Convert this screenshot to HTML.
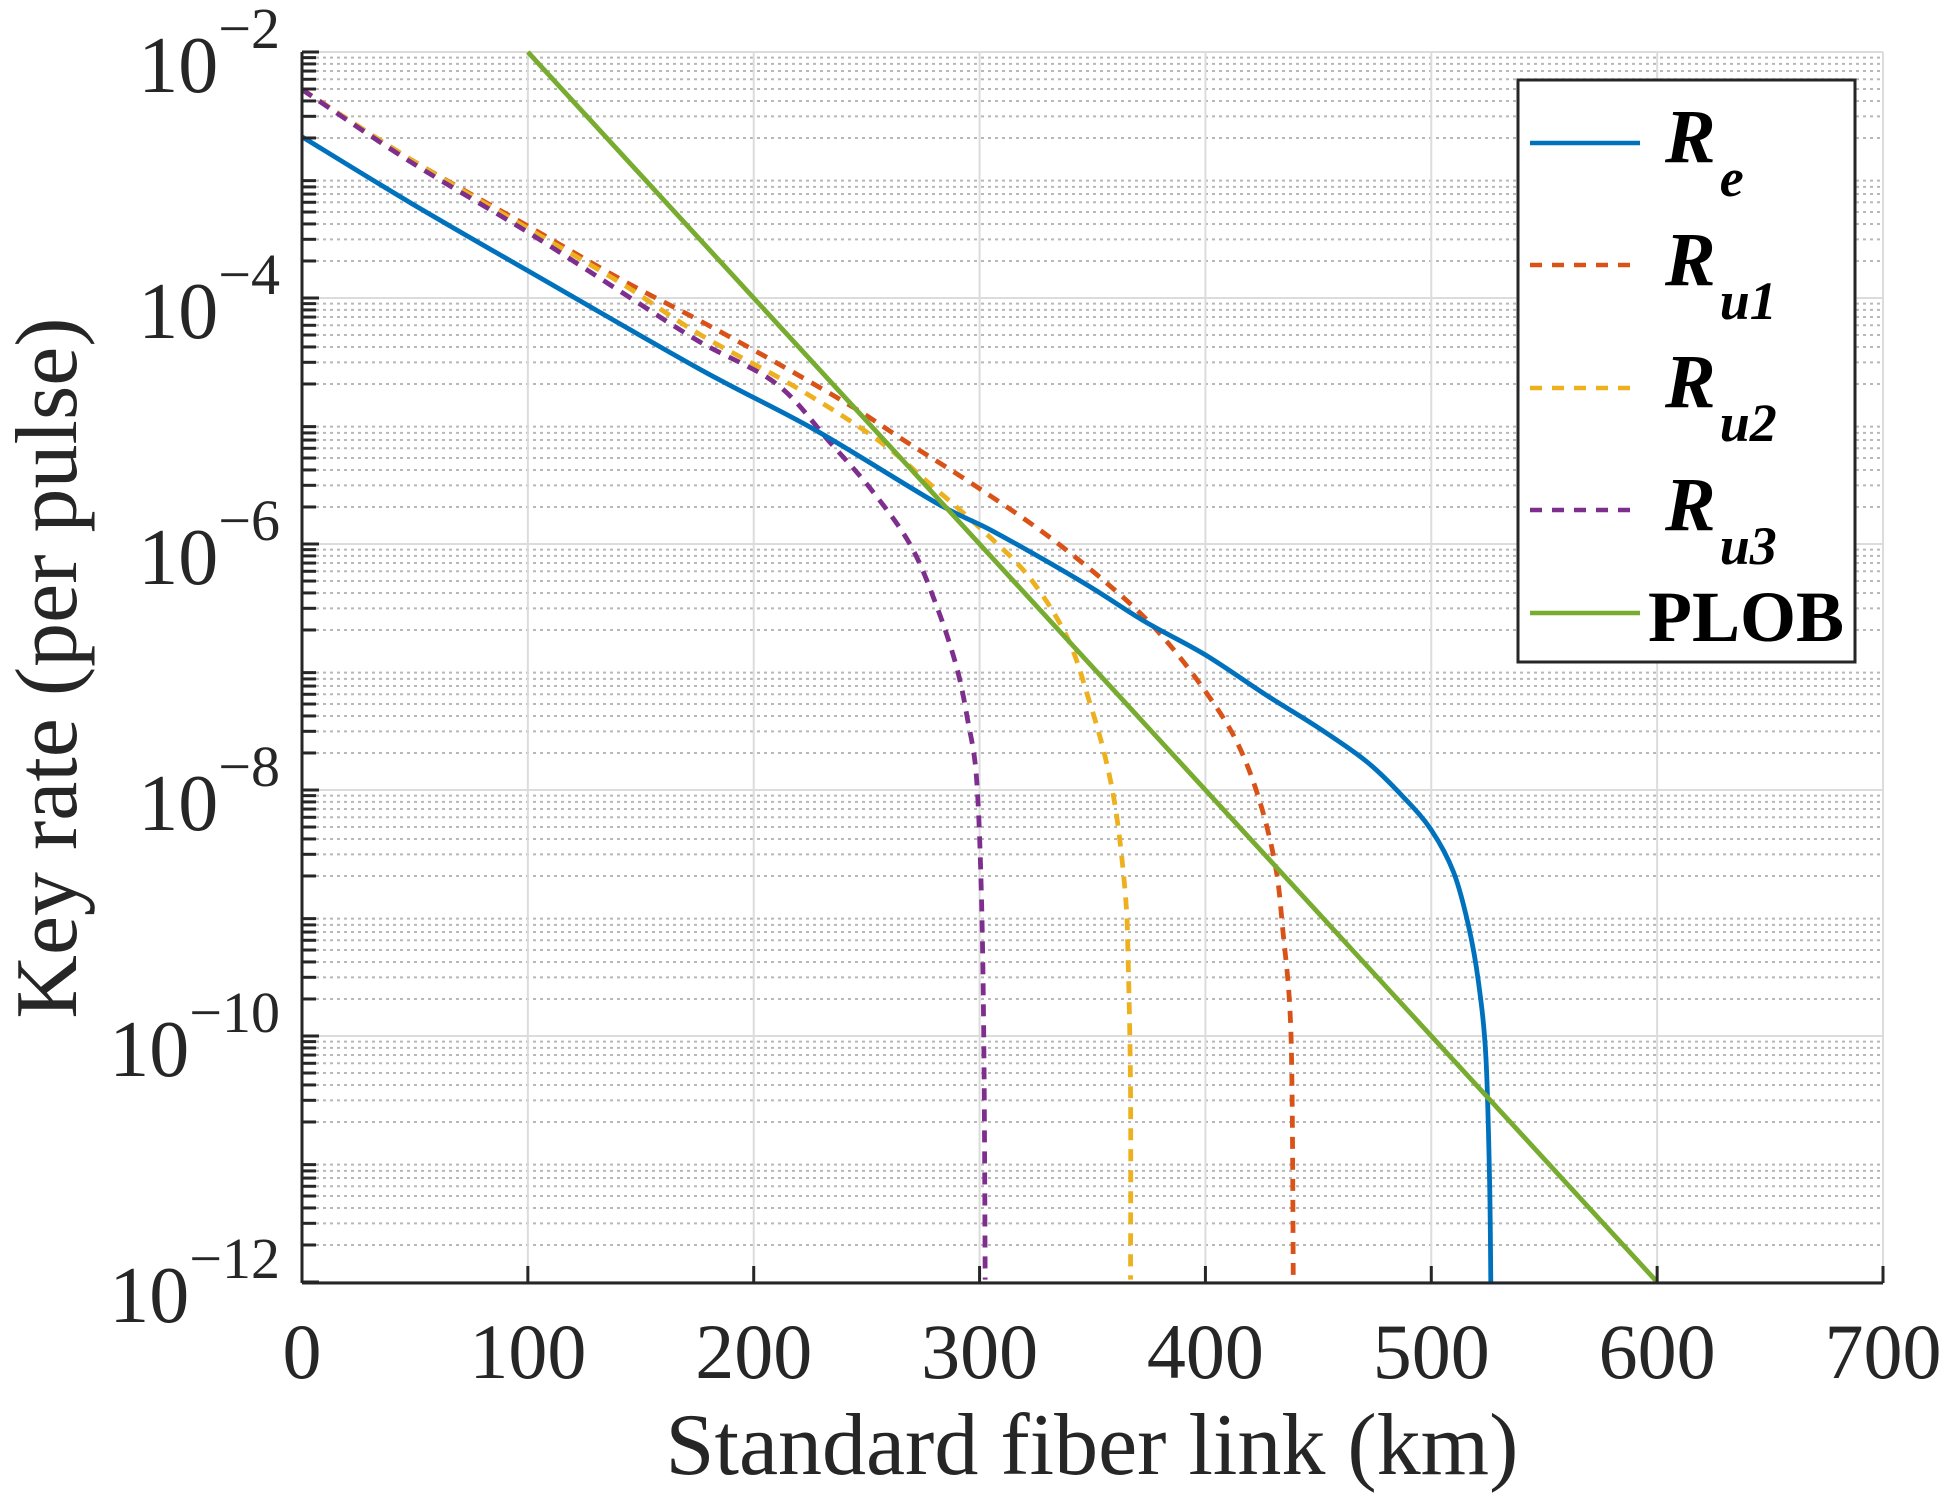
<!DOCTYPE html>
<html><head><meta charset="utf-8"><style>
html,body{margin:0;padding:0;background:#fff;}
svg{display:block;font-family:"Liberation Serif","Times New Roman",serif;}
</style></head><body>
<svg id="s" width="1948" height="1507" viewBox="0 0 1948 1507" xmlns="http://www.w3.org/2000/svg">
<rect width="1948" height="1507" fill="#fff"/>
<g id="grid"></g>
<g id="curves" fill="none" stroke-linejoin="round"></g>
<g id="axes"></g>
<text x="56" y="668" font-size="88" fill="#262626" text-anchor="middle" transform="rotate(-90 56 668)" dominant-baseline="middle">Key rate (per pulse)</text>
<text x="1092" y="1474" font-size="88" fill="#262626" text-anchor="middle">Standard fiber link (km)</text>
<g id="legend">
<rect x="1518" y="80" width="337" height="582" fill="#fff" stroke="#262626" stroke-width="3"/>
<line x1="1530" y1="143" x2="1640" y2="143" stroke="#0072BD" stroke-width="4.5"/>
<line x1="1530" y1="265" x2="1630" y2="265" stroke="#D95319" stroke-width="4.5" stroke-dasharray="12,10"/>
<line x1="1530" y1="388" x2="1630" y2="388" stroke="#EDB120" stroke-width="4.5" stroke-dasharray="12,10"/>
<line x1="1530" y1="510" x2="1630" y2="510" stroke="#7E2F8E" stroke-width="4.5" stroke-dasharray="12,10"/>
<line x1="1530" y1="613" x2="1640" y2="613" stroke="#77AC30" stroke-width="4.5"/>
<g font-size="76" font-weight="bold" font-style="italic" fill="#000">
<text x="1665" y="162">R<tspan font-size="54" dy="34" dx="4">e</tspan></text>
<text x="1665" y="285">R<tspan font-size="54" dy="34" dx="4">u1</tspan></text>
<text x="1665" y="407">R<tspan font-size="54" dy="34" dx="4">u2</tspan></text>
<text x="1665" y="530">R<tspan font-size="54" dy="34" dx="4">u3</tspan></text>
</g>
<text x="1648" y="641" font-size="72" font-weight="bold" fill="#000">PLOB</text>
</g>
</svg>
<script>
var L=302,R=1883,T=52,B=1283,dec=123;
var NS="http://www.w3.org/2000/svg";
function el(p,t,a){var e=document.createElementNS(NS,t);for(var k in a)e.setAttribute(k,a[k]);p.appendChild(e);return e;}
var g=document.getElementById('grid'),ax=document.getElementById('axes'),cv=document.getElementById('curves');
function Y(lg){return T+(-2-lg)*dec;}
function X(km){return L+km*(R-L)/700;}
for(var d=-12;d<-2;d++){for(var m=2;m<=9;m++){var y=Y(d+Math.log10(m));
el(g,'line',{x1:L,x2:R,y1:y,y2:y,stroke:'#b8b8b8','stroke-width':2,'stroke-dasharray':'3,4'});
el(ax,'line',{x1:L,x2:L+14,y1:y,y2:y,stroke:'#262626','stroke-width':3});}}
for(var d=-12;d<=-2;d+=2){var y=Y(d);el(g,'line',{x1:L,x2:R,y1:y,y2:y,stroke:'#dcdcdc','stroke-width':2});}
for(var k=1;k<=7;k++){var x=X(k*100);el(g,'line',{x1:x,x2:x,y1:T,y2:B,stroke:'#dcdcdc','stroke-width':2});}
el(g,'line',{x1:L,x2:R,y1:T,y2:T,stroke:'#dcdcdc','stroke-width':2});
el(ax,'line',{x1:L,x2:L,y1:T,y2:B,stroke:'#262626','stroke-width':3});
el(ax,'line',{x1:L,x2:R,y1:B,y2:B,stroke:'#262626','stroke-width':3});
for(var d=-12;d<=-2;d+=2){var y=Y(d);el(ax,'line',{x1:L,x2:L+17,y1:y,y2:y,stroke:'#262626','stroke-width':3});
var t=el(ax,'text',{x:280,y:y+40,'font-size':80,fill:'#262626','text-anchor':'end'});t.textContent='10';
var s=el(t,'tspan',{'font-size':58,dy:-44});s.textContent='\u2212'+(-d);}
for(var k=0;k<=7;k++){var x=X(k*100);el(ax,'line',{x1:x,x2:x,y1:B,y2:B-17,stroke:'#262626','stroke-width':3});
var t=el(ax,'text',{x:x,y:1378,'font-size':78,fill:'#262626','text-anchor':'middle'});t.textContent=String(k*100);}
var sc=1948/1568;
function path(pts,color,dash){var P=pts.map(function(p){return[p[0]*sc,p[1]*sc];});
var dstr='M'+P[0][0]+','+P[0][1];
for(var i=0;i<P.length-1;i++){var p0=P[i-1]||P[i],p1=P[i],p2=P[i+1],p3=P[i+2]||P[i+1];
var c1=[p1[0]+(p2[0]-p0[0])/6,p1[1]+(p2[1]-p0[1])/6],c2=[p2[0]-(p3[0]-p1[0])/6,p2[1]-(p3[1]-p1[1])/6];
dstr+=' C'+c1[0]+','+c1[1]+' '+c2[0]+','+c2[1]+' '+p2[0]+','+p2[1];}
var a={d:dstr,stroke:color,'stroke-width':4.8};if(dash)a['stroke-dasharray']='12,9';el(cv,'path',a);}
path([[243,72],[330,128],[425,182],[500,225],[563,258],[625,292],[687,328],[730,356],[788,393],[847,434],[902,479],[938,515],[972,559],[996,598],[1014,645],[1027,699],[1033,753],[1038,807],[1040,878],[1041,1033]],'#D95319',1);
path([[243,72],[330,128],[425,184],[500,228],[563,269],[641,312],[705,353],[749,390],[791,427],[828,464],[859,513],[877,565],[890,611],[899,658],[906,722],[908,770],[910,878],[910,1030]],'#EDB120',1);
path([[243,72],[330,130],[425,187],[500,235],[563,275],[625,309],[668,356],[702,395],[733,439],[754,488],[770,537],[779,580],[786,626],[790,722],[792,850],[793,1030]],'#7E2F8E',1);
path([[243,110],[330,163],[425,218],[563,297],[656,346],[754,405],[800,428],[872,469],[921,500],[970,527],[1020,560],[1060,585],[1100,613],[1130,642],[1152,668],[1170,702],[1182,745],[1190,790],[1196,850],[1199,950],[1200,1033]],'#0072BD',0);
el(cv,'line',{x1:X(100),y1:Y(-2),x2:X(600),y2:Y(-12),stroke:'#77AC30','stroke-width':4.8});
</script>
</body></html>
